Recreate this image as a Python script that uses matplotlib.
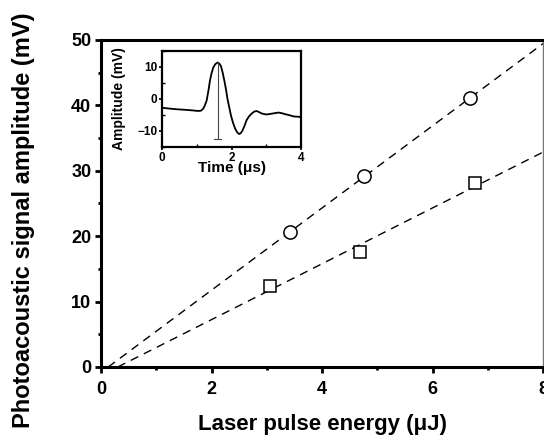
import numpy as np
import matplotlib
matplotlib.use("Agg")
import matplotlib.pyplot as plt
from matplotlib.ticker import MultipleLocator

plt.rcParams['font.family'] = ['Liberation Sans', 'DejaVu Sans']
plt.rcParams['font.weight'] = 'bold'

# main data: photoacoustic amplitude vs laser pulse energy
energy_circ = [3.42, 4.76, 6.68]
amp_circ = [20.6, 29.2, 41.1]
energy_sq = [3.06, 4.69, 6.77]
amp_sq = [12.4, 17.6, 28.1]

# inset: example waveform
t_us = [0.0, 0.25, 0.46, 0.75, 1.04, 1.12, 1.18, 1.23, 1.28, 1.33, 1.375, 1.42, 1.47, 1.53,
        1.6, 1.65, 1.69, 1.74, 1.79, 1.84, 1.88, 1.93, 1.98, 2.04, 2.1, 2.16, 2.21, 2.26,
        2.31, 2.37, 2.43, 2.5, 2.58, 2.65, 2.72, 2.8, 2.87, 2.95, 3.01, 3.18, 3.35, 3.45,
        3.54, 3.66, 3.78, 3.9, 4.0]
amp_mv = [-2.8, -3.1, -3.3, -3.5, -3.8, -3.7, -3.1, -2.0, -0.5, 2.5, 5.7, 8.0, 9.8, 10.9,
          11.4, 11.0, 10.3, 8.3, 5.7, 2.8, 0.0, -2.6, -5.2, -7.5, -9.3, -10.5, -11.0, -10.8,
          -10.0, -8.5, -6.7, -5.5, -4.6, -4.0, -3.8, -4.2, -4.6, -4.8, -4.9, -4.6, -4.3,
          -4.5, -4.8, -5.1, -5.5, -5.6, -5.7]
peak_t = 1.6
peak_low = -12.6

fig = plt.figure(figsize=(5.44, 4.37), dpi=100)
ax = fig.add_axes([0.1857, 0.1602, 0.8125, 0.7483])

for ex, ey, mk, ms in [(energy_circ, amp_circ, 'o', 9.5), (energy_sq, amp_sq, 's', 8)]:
    k, b = np.polyfit(ex, ey, 1)
    xs = np.array([-b / k, 8.5])
    ax.plot(xs, k * xs + b, color='k', lw=1, dashes=(6, 4.5))
    ax.plot(ex, ey, mk, ms=ms, mfc='white', mec='k', mew=1.1, zorder=3)

ax.set_xlim(0, 8)
ax.set_ylim(0, 50)
ax.xaxis.set_major_locator(MultipleLocator(2))
ax.xaxis.set_minor_locator(MultipleLocator(1))
ax.yaxis.set_major_locator(MultipleLocator(10))
ax.yaxis.set_minor_locator(MultipleLocator(5))
ax.tick_params(which='major', direction='out', length=4, width=2, labelsize=13, pad=3)
ax.tick_params(axis='x', which='major', pad=6)
ax.tick_params(which='minor', direction='out', length=2.5, width=2)
for s in ['left', 'bottom', 'top']:
    ax.spines[s].set_linewidth(2.2)
ax.spines['right'].set_linewidth(1)
ax.spines['right'].set_color('#777777')
ax.set_xlabel('Laser pulse energy (μJ)', fontsize=16, fontweight='bold')
ax.set_ylabel('Photoacoustic signal amplitude (mV)', fontsize=17, fontweight='bold')
ax.xaxis.set_label_coords(0.502, -0.145)
ax.yaxis.set_label_coords(-0.15, 0.45)

# inset
ins = fig.add_axes([0.2983, 0.6643, 0.255, 0.219])
ins.plot(t_us, amp_mv, color='k', lw=1.3)
ins.plot([peak_t, peak_t], [peak_low, amp_mv[14]], color='#444444', lw=0.8)
ins.plot([peak_t - 0.1, peak_t + 0.1], [peak_low, peak_low], color='#444444', lw=0.8)
ins.set_xlim(0, 4)
ins.set_ylim(-15, 15)
ins.xaxis.set_major_locator(MultipleLocator(2))
ins.xaxis.set_minor_locator(MultipleLocator(1))
ins.yaxis.set_major_locator(MultipleLocator(10))
ins.yaxis.set_minor_locator(MultipleLocator(5))
ins.tick_params(which='major', direction='out', length=2.5, width=1.2, labelsize=8.5, pad=1)
ins.tick_params(which='minor', direction='in', length=2, width=1)
for s in ins.spines.values():
    s.set_linewidth(1.6)
ins.set_xlabel('Time (μs)', fontsize=11, fontweight='bold', labelpad=-2)
ins.set_ylabel('Amplitude (mV)', fontsize=10, fontweight='bold', labelpad=8)

fig.savefig('out.png', dpi=100)
